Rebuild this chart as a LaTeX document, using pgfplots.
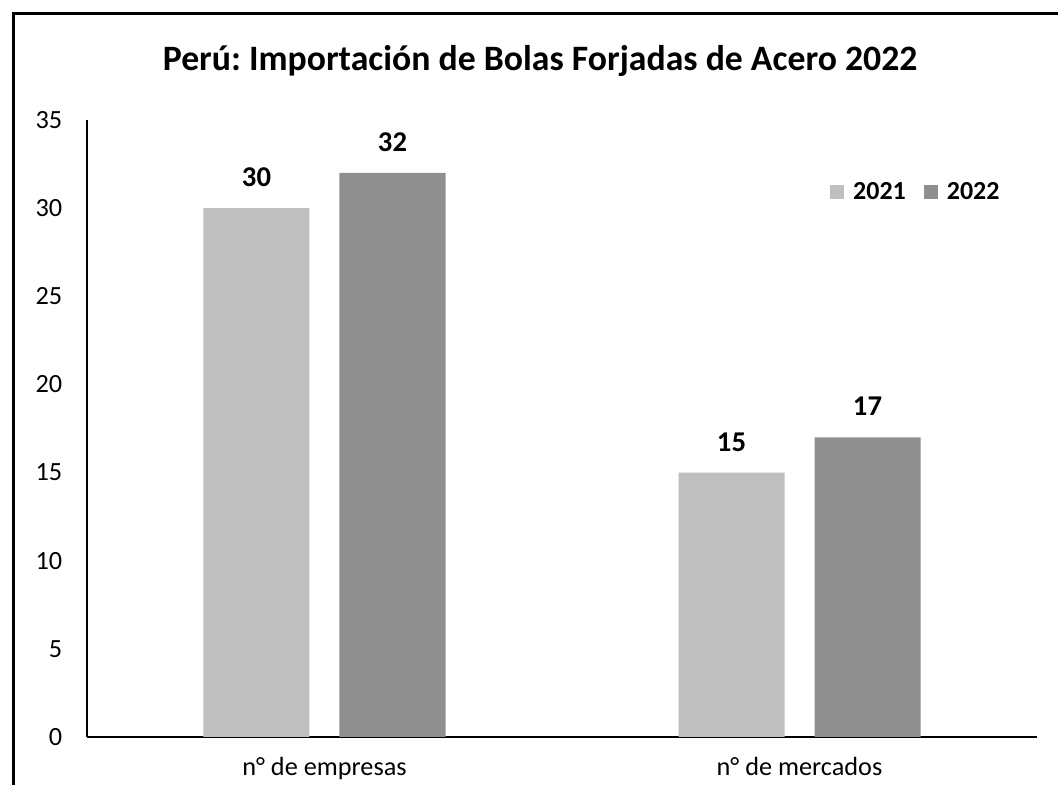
\documentclass[border=0pt]{standalone}
\usepackage{fontspec}
\setmainfont{Carlito}
\usepackage{pgfplots}
\pgfplotsset{compat=1.18}
\definecolor{g21}{HTML}{BFBFBF}
\definecolor{g22}{HTML}{8F8F8F}
\frenchspacing

\begin{document}
\begin{tikzpicture}
\begin{axis}[
  scale only axis, width=712.5pt, height=462.75pt,
  ybar=22.5pt, bar width=79.5pt,
  xmin=-0.5, xmax=1.5, ymin=0, ymax=35,
  xtick=data, xticklabels={n° de empresas, n° de mercados},
  ytick={0,5,...,35},
  /pgf/number format/assume math mode=true,
  axis x line*=bottom, axis y line*=left,
  axis line style={-, line width=1pt},
  major tick length=0pt,
  tick label style={font=\fontsize{19.7}{22}\selectfont},
  yticklabel style={xshift=-15pt},
  xticklabel style={yshift=-12pt},
  nodes near coords,
  nodes near coords style={font=\bfseries\fontsize{21.5}{24}\selectfont, anchor=center, yshift=23pt, text=black},
  title={Perú: Importación de Bolas Forjadas de Acero 2022},
  title style={at={(0.477,1.068)}, anchor=base, font=\bfseries\fontsize{26.8}{30}\selectfont},
  legend columns=2,
  legend style={at={(0.782,0.883)}, anchor=west, draw=none, fill=none, inner sep=0pt,
    font=\bfseries\fontsize{19.5}{22}\selectfont,
    nodes={inner sep=0pt},
    /tikz/every even column/.append style={column sep=13.5pt}},
  legend image code/.code={\fill[#1] (0pt,-5.25pt) rectangle (10.5pt,5.25pt); \path (17.25pt,0pt);},
]
\addplot[fill=g21, draw=none] coordinates {(0,30) (1,15)};
\addplot[fill=g22, draw=none] coordinates {(0,32) (1,17)};
\legend{2021,2022}
\end{axis}
\draw[line width=2.25pt] (-54.75pt,-80pt) -- (-54.75pt,542.25pt) -- (780pt,542.25pt);
\pgfresetboundingbox
\useasboundingbox (-65.25pt,-36pt) rectangle (728.25pt,552.75pt);
\end{tikzpicture}
\end{document}
